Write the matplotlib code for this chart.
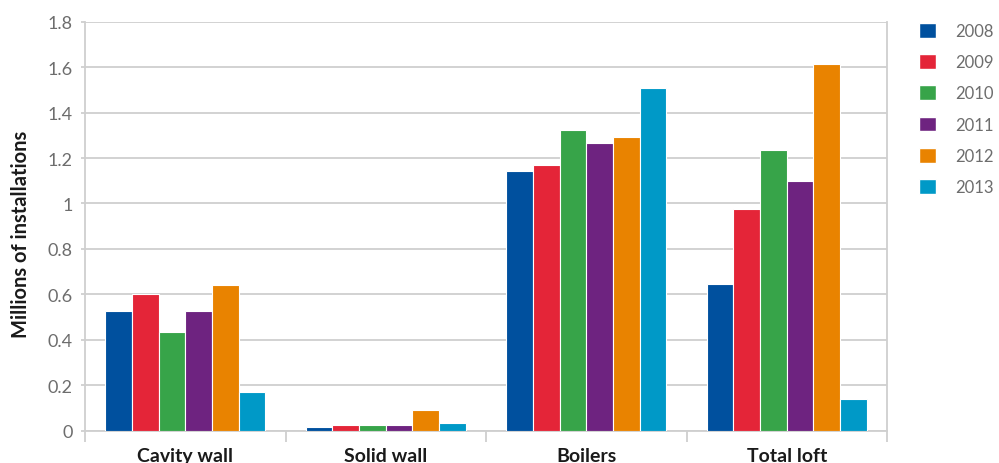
import numpy as np
import matplotlib
matplotlib.use("Agg")
import matplotlib.pyplot as plt
from matplotlib.patches import Patch

plt.rcParams['font.family'] = ['Lato', 'DejaVu Sans']

categories = ["Cavity wall", "Solid wall", "Boilers", "Total loft"]
years = ["2008", "2009", "2010", "2011", "2012", "2013"]
colors = ["#00509e", "#e42538", "#37a449", "#6e2380", "#e98300", "#0099c7"]

# millions of installations, one list per year across the categories
v2008 = [0.526, 0.015, 1.142, 0.644]
v2009 = [0.601, 0.024, 1.168, 0.977]
v2010 = [0.435, 0.024, 1.325, 1.235]
v2011 = [0.526, 0.024, 1.266, 1.100]
v2012 = [0.643, 0.089, 1.292, 1.616]
v2013 = [0.171, 0.033, 1.509, 0.140]
series = [v2008, v2009, v2010, v2011, v2012, v2013]

fig = plt.figure(figsize=(9.99, 4.64), dpi=100)
ax = fig.add_axes([85 / 999, 1 - 431.7 / 464, 802 / 999, (431.7 - 22.7) / 464])

x = np.arange(len(categories))
group = 0.8
w = group / len(years)
for i, (yr, vals, c) in enumerate(zip(years, series, colors)):
    ax.bar(x - group / 2 + w * (i + 0.5), vals, width=w, color=c,
           edgecolor="white", linewidth=0.8, label=yr, zorder=3)

ax.set_xlim(-0.5, len(categories) - 0.5)
ax.set_ylim(0, 1.8)
ax.set_yticks(np.arange(0, 1.81, 0.2))
ax.set_yticklabels(["0", "0.2", "0.4", "0.6", "0.8", "1", "1.2", "1.4", "1.6", "1.8"])
ax.yaxis.grid(True, color="#cfcfcf", linewidth=1.3, zorder=0)
ax.tick_params(axis="y", length=3, color="#cfcfcf", width=1.3, labelsize=13,
               labelcolor="#6d6d6d", pad=6)

ax.set_xticks(x)
ax.set_xticklabels(categories, fontweight="bold", fontsize=14, color="#1a1a1a")
ax.set_xticks(np.arange(-0.5, len(categories)), minor=True)
ax.tick_params(axis="x", which="major", length=0, pad=12)
ax.tick_params(axis="x", which="minor", length=8, color="#cfcfcf", width=1.3)

for side in ["left", "right", "bottom"]:
    ax.spines[side].set_color("#cfcfcf")
    ax.spines[side].set_linewidth(1.3)
ax.spines["top"].set_visible(False)

fig.text(21 / 999, 1 - 234.5 / 464, "Millions of installations", rotation=90,
         ha="center", va="center", fontweight="bold", fontsize=14.5, color="#1a1a1a")

handles = [Patch(facecolor=c, edgecolor="white", label=yr) for yr, c in zip(years, colors)]
fig.legend(handles=handles, loc="upper left", bbox_to_anchor=(919 / 999, 1 - 24 / 464),
           frameon=False, fontsize=12, labelcolor="#6d6d6d", handlelength=1.0,
           handleheight=1.0, handletextpad=1.15, labelspacing=0.9, borderpad=0,
           borderaxespad=0)

fig.savefig("out.png", dpi=100)
